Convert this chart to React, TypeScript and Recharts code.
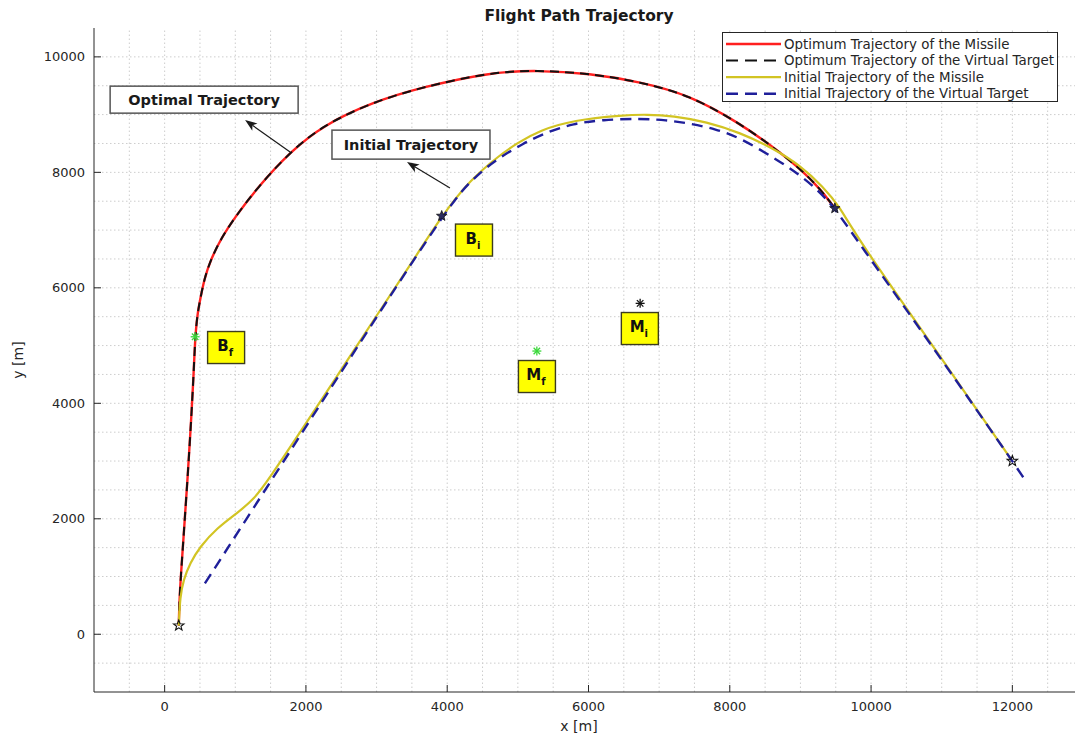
import React from 'react';
import {
  ComposedChart,
  Line,
  Scatter,
  XAxis,
  YAxis,
  ReferenceLine,
  ReferenceDot,
  Legend,
} from 'recharts';

type P = [number, number];
const toPts = (a: P[]) => a.map(([x, y]) => ({ x, y }));

// ---------- data ----------
const optimumMissile: P[] = [
  [200, 150], [212, 700], [252, 1400], [285, 2000], [323, 2670], [365, 3500],
  [407, 4404], [432, 5153], [465, 5550], [502, 5789], [560, 6150], [650, 6480],
  [800, 6860], [1000, 7230], [1304, 7722], [1776, 8356], [2247, 8818], [2954, 9221],
  [3662, 9481], [4604, 9730], [5266, 9770], [6020, 9713], [6728, 9567], [7435, 9337],
  [8143, 8847], [8610, 8442], [8992, 8068], [9275, 7722], [9487, 7376],
];

const optimumTarget: P[] = [
  [200, 150], [212, 700], [252, 1400], [285, 2000], [323, 2670], [365, 3500],
  [407, 4404], [432, 5153], [465, 5550], [502, 5789], [560, 6150], [650, 6480],
  [800, 6860], [1000, 7230], [1304, 7722], [1776, 8356], [2247, 8818], [2954, 9221],
  [3662, 9481], [4604, 9730], [5266, 9770], [6020, 9713], [6728, 9567], [7435, 9337],
  [8143, 8847], [8610, 8442], [8992, 8068], [9275, 7722], [9487, 7376],
];

const initialMissile: P[] = [
  [200, 150], [219, 653], [266, 942], [361, 1236], [502, 1518], [738, 1837],
  [1022, 2096], [1256, 2326], [1469, 2673], [2000, 3650], [2500, 4580], [3000, 5520],
  [3500, 6440], [3922, 7244], [4322, 7867], [4746, 8300], [4983, 8501], [5313, 8731],
  [5784, 8904], [6491, 8991], [6822, 9003], [7199, 8979], [7671, 8875], [8143, 8690],
  [8614, 8414], [8991, 8125], [9321, 7750], [9557, 7404], [9793, 6884], [10900, 4950],
  [12000, 3000],
];

const initialTarget: P[] = [
  [570, 880], [2200, 3975], [3922, 7244], [4300, 7830], [4700, 8230], [5076, 8501],
  [5400, 8690], [5784, 8847], [6200, 8910], [6728, 8934], [7100, 8905], [7435, 8847],
  [7800, 8750], [8143, 8600], [8614, 8260], [8991, 7960], [9275, 7660], [9487, 7376],
  [9770, 6880], [10900, 4930], [12000, 3000], [12160, 2708],
];

const hollowStars: P[] = [[200, 150], [12000, 3000]];
const filledStars: P[] = [[3922, 7244], [9487, 7376]];
const finalPoints: P[] = [[432, 5152], [5269, 4905]];
const initialPoints: P[] = [[6731, 5731]];

const xTicks = [0, 2000, 4000, 6000, 8000, 10000, 12000];
const yTicks = [0, 2000, 4000, 6000, 8000, 10000];
const xDomain: [number, number] = [-1000, 13000];
const yDomain: [number, number] = [-1000, 10500];

const pointLabels = [
  { x: 870, y: 4966, base: 'B', sub: 'f' },
  { x: 4379, y: 6827, base: 'B', sub: 'i' },
  { x: 5270, y: 4464, base: 'M', sub: 'f' },
  { x: 6727, y: 5295, base: 'M', sub: 'i' },
];

const callouts = [
  { x: 559, y: 9259, text: 'Optimal Trajectory' },
  { x: 3487, y: 8480, text: 'Initial Trajectory' },
];

const calloutArrows = [
  { x1: 1776, y1: 8351, x2: 1139, y2: 8905 },
  { x1: 4039, y1: 7728, x2: 3431, y2: 8178 },
];

const seriesNames = [
  'Optimum Trajectory of the Missile',
  'Optimum Trajectory of the Virtual Target',
  'Initial Trajectory of the Missile',
  'Initial Trajectory of the Virtual Target',
];

// ---------- styles ----------
const FONT = 'DejaVu Sans, Verdana, sans-serif';
const AXIS = '#262626';
const RED = '#ff1f1f';
const BLACK = '#111111';
const YELLOW = '#d2c423';
const BLUE = '#1f1f9a';
const GRID = '#cdcdcd';

const seriesStyles = [
  { stroke: RED, width: 2.4, dash: undefined as string | undefined },
  { stroke: BLACK, width: 2, dash: '9 6' },
  { stroke: YELLOW, width: 2.2, dash: undefined as string | undefined },
  { stroke: BLUE, width: 2.4, dash: '11 7' },
];

const calloutSizes = [
  { w: 188, h: 27 },
  { w: 158, h: 29 },
];

const range = (a: number, b: number, s: number) => {
  const r: number[] = [];
  for (let v = a; v <= b + 1e-9; v += s) r.push(v);
  return r;
};
const gridX = range(-500, 12500, 500);
const gridY = range(-500, 10000, 500);

// ---------- shapes ----------
const starPoints = (cx: number, cy: number, R: number, r: number) => {
  const pts: string[] = [];
  for (let i = 0; i < 10; i++) {
    const rad = i % 2 === 0 ? R : r;
    const a = -Math.PI / 2 + (i * Math.PI) / 5;
    pts.push(`${cx + rad * Math.cos(a)},${cy + rad * Math.sin(a)}`);
  }
  return pts.join(' ');
};

const HollowStar = (p: any) =>
  p.cx == null ? <g /> : (
    <polygon points={starPoints(p.cx, p.cy, 5.5, 2.3)} fill="#ffffff" fillOpacity={0} stroke={BLACK} strokeWidth={1.1} />
  );

const FilledStar = (p: any) =>
  p.cx == null ? <g /> : (
    <polygon points={starPoints(p.cx, p.cy, 5.5, 2.3)} fill="#2b2b5e" stroke={BLACK} strokeWidth={0.8} />
  );

const makeAsterisk = (color: string) => (p: any) => {
  if (p.cx == null) return <g />;
  const s = 4.5;
  const d = s * 0.72;
  const { cx, cy } = p;
  return (
    <g stroke={color} strokeWidth={1.3}>
      <line x1={cx - s} y1={cy} x2={cx + s} y2={cy} />
      <line x1={cx} y1={cy - s} x2={cx} y2={cy + s} />
      <line x1={cx - d} y1={cy - d} x2={cx + d} y2={cy + d} />
      <line x1={cx - d} y1={cy + d} x2={cx + d} y2={cy - d} />
    </g>
  );
};
const GreenAsterisk = makeAsterisk('#3ad83a');
const BlackAsterisk = makeAsterisk('#111111');

const Arrow = (props: any) => {
  const { x1, y1, x2, y2 } = props;
  if ([x1, y1, x2, y2].some((v) => v == null || isNaN(v))) return <g />;
  const ang = Math.atan2(y2 - y1, x2 - x1);
  const L = 12;
  const W = 4.5;
  const bx = x2 - L * Math.cos(ang);
  const by = y2 - L * Math.sin(ang);
  const px = -Math.sin(ang) * W;
  const py = Math.cos(ang) * W;
  const nx = x2 - L * 0.75 * Math.cos(ang);
  const ny = y2 - L * 0.75 * Math.sin(ang);
  return (
    <g>
      <line x1={x1} y1={y1} x2={nx} y2={ny} stroke="#1a1a1a" strokeWidth={1.2} />
      <polygon
        points={`${x2},${y2} ${bx + px},${by + py} ${nx},${ny} ${bx - px},${by - py}`}
        fill="#1a1a1a"
      />
    </g>
  );
};

const makePointLabel = (base: string, sub: string) => (p: any) => {
  if (p.cx == null) return <g />;
  const { cx, cy } = p;
  const w = 37;
  const h = 32;
  return (
    <g>
      <rect x={cx - w / 2} y={cy - h / 2} width={w} height={h} fill="#ffff00" stroke="#3c3c1e" strokeWidth={1.4} />
      <text x={cx - 1} y={cy + 3.5} textAnchor="middle" fontFamily={FONT} fontWeight="bold" fontSize={15} fill="#111">
        <tspan>{base}</tspan>
        <tspan dy={5} fontSize={10}>{sub}</tspan>
      </text>
    </g>
  );
};

const makeCallout = (text: string, w: number, h: number) => (p: any) => {
  if (p.cx == null) return <g />;
  const { cx, cy } = p;
  return (
    <g>
      <rect x={cx - w / 2} y={cy - h / 2} width={w} height={h} fill="#ffffff" stroke="#555555" strokeWidth={1.5} />
      <text x={cx} y={cy + 5} textAnchor="middle" fontFamily={FONT} fontWeight="bold" fontSize={14.5} fill="#1a1a1a">
        {text}
      </text>
    </g>
  );
};

const LegendBox = () => {
  const rowY = [11, 27.6, 44.2, 60.8];
  return (
    <div style={{ width: 336, height: 70, background: '#fff', border: '1px solid #262626', boxSizing: 'border-box' }}>
      <svg width={334} height={68} style={{ display: 'block' }}>
        {seriesNames.map((name, i) => (
          <g key={name}>
            <line
              x1={3}
              x2={58}
              y1={rowY[i]}
              y2={rowY[i]}
              stroke={seriesStyles[i].stroke}
              strokeWidth={seriesStyles[i].width}
              strokeDasharray={seriesStyles[i].dash ? '12 7' : undefined}
            />
            <text x={61} y={rowY[i] + 4.5} fontFamily={FONT} fontSize={13.4} fill="#262626">
              {name}
            </text>
          </g>
        ))}
      </svg>
    </div>
  );
};

const tickStyle = { fontFamily: FONT, fontSize: 13, fill: AXIS };

export default function App() {
  const series = [optimumMissile, optimumTarget, initialMissile, initialTarget];
  return (
    <div style={{ position: 'absolute', left: 0, top: 0, width: 1075, height: 736, overflow: 'hidden', background: '#fff' }}>
      <div
        style={{
          position: 'absolute',
          left: 379,
          top: 7,
          width: 400,
          textAlign: 'center',
          fontFamily: FONT,
          fontWeight: 'bold',
          fontSize: 15.5,
          lineHeight: '18px',
          color: '#1a1a1a',
          zIndex: 2,
        }}
      >
        Flight Path Trajectory
      </div>
      <ComposedChart width={1090} height={736} margin={{ top: 28, right: 7, bottom: 0, left: 0 }}>
        <XAxis
          type="number"
          dataKey="x"
          domain={xDomain}
          ticks={xTicks}
          interval={0}
          allowDataOverflow
          height={44}
          tickSize={-7}
          tickMargin={17}
          tick={tickStyle}
          axisLine={{ stroke: AXIS }}
          tickLine={{ stroke: AXIS }}
          label={{
            content: () => (
              <text x={579} y={731} textAnchor="middle" fontFamily={FONT} fontSize={14} fill={AXIS}>
                x [m]
              </text>
            ),
          }}
        />
        <XAxis
          xAxisId="top"
          orientation="top"
          type="number"
          domain={xDomain}
          ticks={xTicks}
          interval={0}
          allowDataOverflow
          height={0}
          tickSize={-7}
          tick={false}
          axisLine={{ stroke: AXIS }}
          tickLine={{ stroke: AXIS }}
        />
        <YAxis
          type="number"
          dataKey="y"
          domain={yDomain}
          ticks={yTicks}
          interval={0}
          allowDataOverflow
          width={94}
          tickSize={-7}
          tickMargin={16}
          tick={tickStyle}
          axisLine={{ stroke: AXIS }}
          tickLine={{ stroke: AXIS }}
          label={{
            content: () => (
              <text
                x={23}
                y={360}
                transform="rotate(-90 23 360)"
                textAnchor="middle"
                fontFamily={FONT}
                fontSize={14}
                fill={AXIS}
              >
                y [m]
              </text>
            ),
          }}
        />
        {gridX.map((v) => (
          <ReferenceLine key={'gx' + v} x={v} stroke={GRID} strokeDasharray="1.5 2.5" strokeWidth={1} />
        ))}
        {gridY.map((v) => (
          <ReferenceLine key={'gy' + v} y={v} stroke={GRID} strokeDasharray="1.5 2.5" strokeWidth={1} />
        ))}
        {series.map((d, i) => (
          <Line
            key={seriesNames[i]}
            name={seriesNames[i]}
            data={toPts(d)}
            dataKey="y"
            type="basis"
            stroke={seriesStyles[i].stroke}
            strokeWidth={seriesStyles[i].width}
            strokeDasharray={seriesStyles[i].dash}
            dot={false}
            activeDot={false}
            isAnimationActive={false}
            legendType="none"
          />
        ))}
        <Scatter data={toPts(hollowStars)} shape={HollowStar} isAnimationActive={false} legendType="none" />
        <Scatter data={toPts(filledStars)} shape={FilledStar} isAnimationActive={false} legendType="none" />
        <Scatter data={toPts(finalPoints)} shape={GreenAsterisk} isAnimationActive={false} legendType="none" />
        <Scatter data={toPts(initialPoints)} shape={BlackAsterisk} isAnimationActive={false} legendType="none" />
        {calloutArrows.map((a, i) => (
          <ReferenceLine
            key={'arrow' + i}
            segment={[
              { x: a.x1, y: a.y1 },
              { x: a.x2, y: a.y2 },
            ]}
            shape={Arrow}
          />
        ))}
        {callouts.map((c, i) => (
          <ReferenceDot
            key={'callout' + i}
            x={c.x}
            y={c.y}
            r={1}
            shape={makeCallout(c.text, calloutSizes[i].w, calloutSizes[i].h)}
          />
        ))}
        {pointLabels.map((l, i) => (
          <ReferenceDot key={'pl' + i} x={l.x} y={l.y} r={1} shape={makePointLabel(l.base, l.sub)} />
        ))}
        <Legend
          layout="horizontal"
          verticalAlign="middle"
          align="center"
          content={() => <LegendBox />}
          wrapperStyle={{ position: 'absolute', left: 722, top: 32, width: 336, height: 70 }}
        />
      </ComposedChart>
    </div>
  );
}
